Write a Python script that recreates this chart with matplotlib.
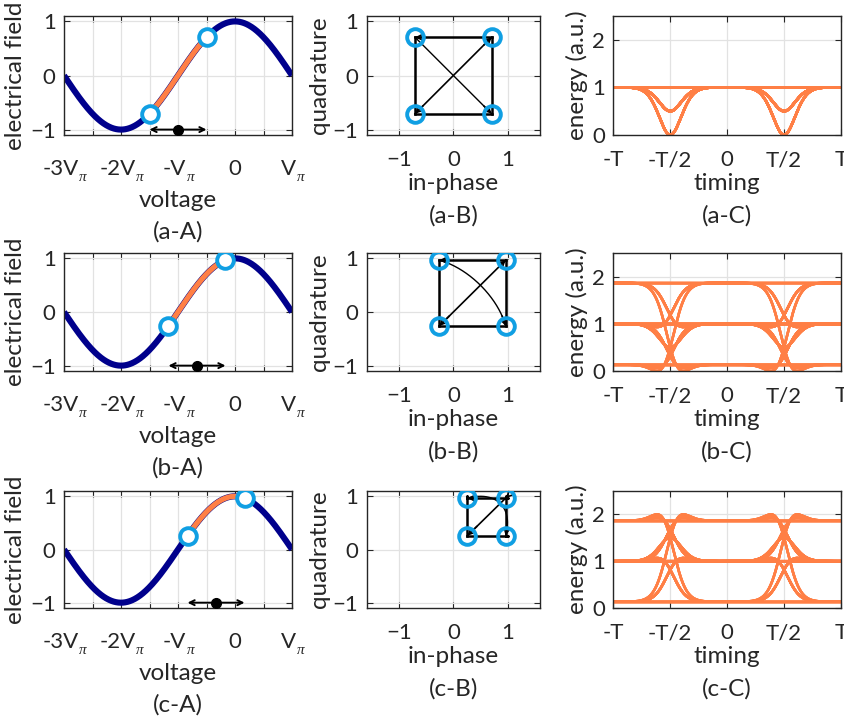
import math
import itertools
import numpy as np
import matplotlib
matplotlib.use('Agg')
import matplotlib.pyplot as plt
from matplotlib.transforms import ScaledTranslation

plt.rcParams['font.family'] = ['Lato', 'DejaVu Sans']

# ---------------- data ----------------
row_tags = ['a', 'b', 'c']
bias_vpi = [-1.0, -0.667, -0.333]      # bias point (units of V_pi)
swing_vpi = 0.5                         # half of the peak-to-peak drive (units of V_pi)
volt_range = [-3.0, 1.0]
volt_ticks = [-3, -2.5, -2, -1.5, -1, -0.5, 0, 0.5, 1]
volt_labels = ['-3V', '', '-2V', '', '-V', '', '0', '', 'V']
volt_sub = 'π'
field_ticks = [-1, 0, 1]
iq_ticks = [-1, 0, 1]
time_ticks = [-1, -0.5, 0, 0.5, 1]
time_labels = ['-T', '-T/2', '0', 'T/2', 'T']
energy_ticks = [0, 1, 2]
symbol_edges = [-0.5, 0.5]              # symbol boundaries (units of T)
rise_sigma = 0.12                       # transition width (units of T)

# ---------------- style ----------------
NAVY = '#00008C'
ORANGE = '#FF7F45'
CYAN = '#109FE3'
AXC = '#262626'
GRID = '#E2E2E2'
TICK_FS = 16
LAB_FS = 17.5
LSP = 1.6

W, H = 844, 718
fig = plt.figure(figsize=(W / 100, H / 100), dpi=100)

rows_px = [(16, 135), (253, 371), (491, 608)]
cols_px = {'A': (64, 292), 'B': (366.7, 540), 'C': (613.3, 841)}


def mk_axes(col, row):
    x0, x1 = cols_px[col]
    y0, y1 = rows_px[row]
    return fig.add_axes([x0 / W, 1 - y1 / H, (x1 - x0) / W, (y1 - y0) / H])


def style(ax, xpad=11):
    for s in ax.spines.values():
        s.set_color(AXC)
        s.set_linewidth(1.0)
    ax.tick_params(direction='in', length=4, width=0.8, colors=AXC,
                   labelsize=TICK_FS, top=True, right=True)
    ax.tick_params(axis='x', pad=xpad)
    ax.tick_params(axis='y', pad=6)
    ax.grid(True, color=GRID, lw=0.9)
    ax.set_axisbelow(True)


def field(v):
    return np.cos(np.pi / 2 * np.asarray(v))


phi = np.vectorize(lambda z: 0.5 * (1 + math.erf(z / math.sqrt(2))))

corners = [(-1, -1), (-1, 1), (1, -1), (1, 1)]
paths = [((-1, 1), (1, 1), 1.8), ((-1, -1), (1, -1), 1.8),
         ((-1, -1), (-1, 1), 1.8), ((1, -1), (1, 1), 1.8),
         ((-1, -1), (1, 1), 1.2), ((-1, 1), (1, -1), 1.0)]
arrows = [((-1, -1), (1, 1)), ((1, 1), (-1, -1)), ((-1, 1), (1, -1)), ((1, 1), (-1, 1))]

shift_left = ScaledTranslation(-3.5 / 100, 0, fig.dpi_scale_trans)

a_axes = []
for r, tag in enumerate(row_tags):
    bias = bias_vpi[r]
    lo, hi = bias - swing_vpi, bias + swing_vpi

    # ---- A: transfer function ----
    ax = mk_axes('A', r)
    a_axes.append(ax)
    style(ax, xpad=17)
    v = np.linspace(volt_range[0], volt_range[1], 600)
    ax.plot(v, field(v), color=NAVY, lw=4.4, solid_capstyle='butt', zorder=2)
    vs = np.linspace(lo, hi, 200)
    ax.plot(vs, field(vs), color=ORANGE, lw=3.8, solid_capstyle='butt', zorder=3)
    ax.plot([lo, hi], field([lo, hi]), 'o', ms=12, mew=2.8, mec=CYAN, mfc='white', zorder=4)
    ax.annotate('', xy=(hi, -1), xytext=(lo, -1),
                arrowprops=dict(arrowstyle='<->', color='black', lw=1.4,
                                shrinkA=0, shrinkB=0, mutation_scale=9), zorder=4)
    ax.plot([bias], [-1], 'o', ms=7, color='black', zorder=5)
    ax.set_xlim(volt_range)
    ax.set_ylim(-1.1, 1.1)
    ax.set_xticks(volt_ticks)
    ax.set_xticklabels(volt_labels)
    for tk in ax.xaxis.get_major_ticks():
        if tk.label1.get_text().endswith('V'):
            tk.label1.set_transform(tk.label1.get_transform() + shift_left)
    ax.set_yticks(field_ticks)
    ax.set_xlabel('voltage\n(%s-A)' % tag, fontsize=LAB_FS, color=AXC, linespacing=LSP, labelpad=8)
    ax.set_ylabel('electrical field', fontsize=LAB_FS, color=AXC, labelpad=3)

    # ---- B: constellation ----
    ax = mk_axes('B', r)
    style(ax)
    s = np.linspace(0, 1, 300)
    for (a0, a1, lw) in paths:
        vi = bias + swing_vpi * (a0[0] + (a1[0] - a0[0]) * s)
        vq = bias + swing_vpi * (a0[1] + (a1[1] - a0[1]) * s)
        ax.plot(field(vi), field(vq), color='black', lw=lw, zorder=2)
    for (a0, a1) in arrows:
        s2 = np.array([0.88, 1.0])
        vi = bias + swing_vpi * (a0[0] + (a1[0] - a0[0]) * s2)
        vq = bias + swing_vpi * (a0[1] + (a1[1] - a0[1]) * s2)
        ax.annotate('', xy=(field(vi[1]), field(vq[1])), xytext=(field(vi[0]), field(vq[0])),
                    arrowprops=dict(arrowstyle='->', color='black', lw=1.2,
                                    shrinkA=0, shrinkB=0, mutation_scale=9), zorder=3)
    ci = [field(bias + swing_vpi * c[0]) for c in corners]
    cq = [field(bias + swing_vpi * c[1]) for c in corners]
    ax.plot(ci, cq, 'o', ms=12, mew=2.8, mec=CYAN, mfc='none', zorder=4)
    ax.set_xlim(-1.6, 1.6)
    ax.set_ylim(-1.1, 1.1)
    ax.set_xticks(iq_ticks)
    ax.set_yticks(iq_ticks)
    ax.set_xlabel('in-phase\n(%s-B)' % tag, fontsize=LAB_FS, color=AXC, linespacing=LSP, labelpad=2)
    ax.set_ylabel('quadrature', fontsize=LAB_FS, color=AXC, labelpad=2)

    # ---- C: energy eye ----
    ax = mk_axes('C', r)
    style(ax)
    t = np.linspace(-1, 1, 801)
    st1 = phi((t - symbol_edges[0]) / rise_sigma)
    st2 = phi((t - symbol_edges[1]) / rise_sigma)
    for seq in itertools.product(corners, repeat=3):
        (i0, q0), (i1, q1), (i2, q2) = seq
        vi = bias + swing_vpi * (i0 + (i1 - i0) * st1 + (i2 - i1) * st2)
        vq = bias + swing_vpi * (q0 + (q1 - q0) * st1 + (q2 - q1) * st2)
        ax.plot(t, field(vi) ** 2 + field(vq) ** 2, color=ORANGE, lw=1.8, zorder=2)
    ax.set_xlim(-1, 1)
    ax.set_ylim(0, 2.5)
    ax.set_xticks(time_ticks)
    ax.set_xticklabels(time_labels)
    ax.set_yticks(energy_ticks)
    ax.set_xlabel('timing\n(%s-C)' % tag, fontsize=LAB_FS, color=AXC, linespacing=LSP, labelpad=2)
    ax.set_ylabel('energy (a.u.)', fontsize=LAB_FS, color=AXC, labelpad=3)

# subscript pi after each "V" tick label
fig.canvas.draw()
renderer = fig.canvas.get_renderer()
for ax in a_axes:
    for lbl in ax.get_xticklabels():
        if lbl.get_text().endswith('V'):
            bb = lbl.get_window_extent(renderer)
            xc = bb.x1 + 0.5
            yc = 0.5 * (bb.y0 + bb.y1) - 9
            fig.text(xc / W, yc / H, volt_sub, fontsize=11, family='Liberation Serif',
                     style='italic', color=AXC, ha='left', va='center')

fig.savefig('out.png', dpi=100)
